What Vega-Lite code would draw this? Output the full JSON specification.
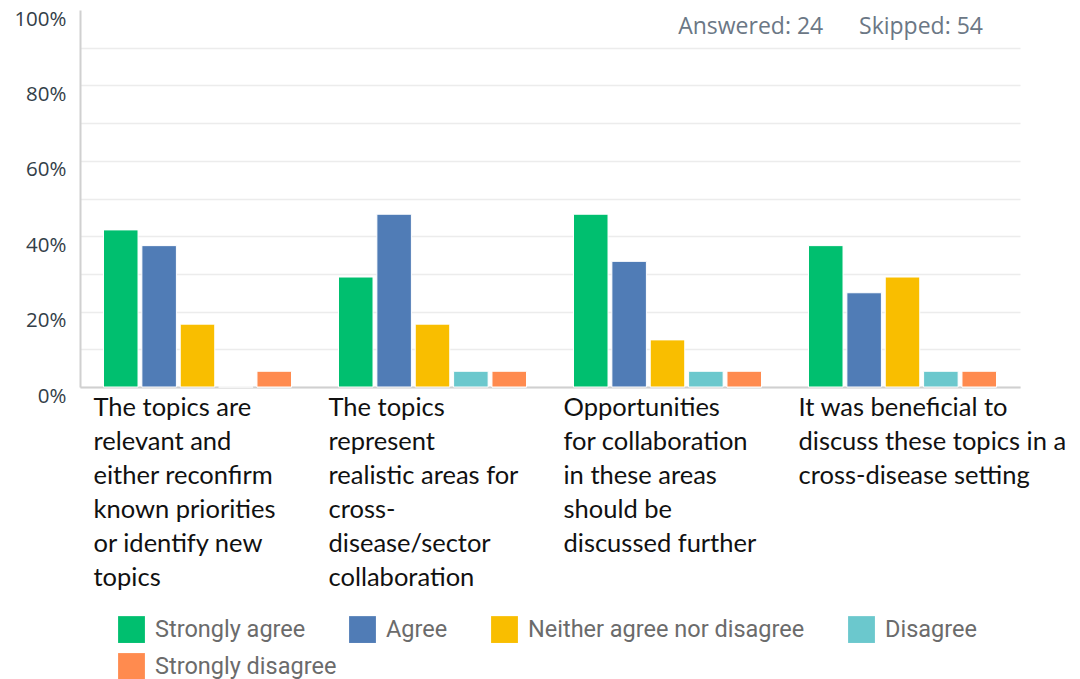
{
  "$schema": "https://vega.github.io/schema/vega-lite/v6.json",
  "width": 940,
  "height": 377,
  "autosize": {"type": "none"},
  "padding": {"left": 80, "top": 10, "right": 60, "bottom": 292},
  "background": "white",
  "title": {
    "text": "Answered: 24\u00a0\u00a0\u00a0\u00a0\u00a0\u00a0Skipped: 54",
    "anchor": "end",
    "frame": "group",
    "orient": "top",
    "offset": -30,
    "dx": -37,
    "font": "Open Sans",
    "fontSize": 23,
    "fontWeight": "normal",
    "color": "#6b7785"
  },
  "datasets": {
    "survey": [
      {"question": "q1", "answer": "Strongly agree", "pct": 0.4167},
      {"question": "q1", "answer": "Agree", "pct": 0.375},
      {"question": "q1", "answer": "Neither agree nor disagree", "pct": 0.1667},
      {"question": "q1", "answer": "Disagree", "pct": 0},
      {"question": "q1", "answer": "Strongly disagree", "pct": 0.0417},
      {"question": "q2", "answer": "Strongly agree", "pct": 0.2917},
      {"question": "q2", "answer": "Agree", "pct": 0.4583},
      {"question": "q2", "answer": "Neither agree nor disagree", "pct": 0.1667},
      {"question": "q2", "answer": "Disagree", "pct": 0.0417},
      {"question": "q2", "answer": "Strongly disagree", "pct": 0.0417},
      {"question": "q3", "answer": "Strongly agree", "pct": 0.4583},
      {"question": "q3", "answer": "Agree", "pct": 0.3333},
      {"question": "q3", "answer": "Neither agree nor disagree", "pct": 0.125},
      {"question": "q3", "answer": "Disagree", "pct": 0.0417},
      {"question": "q3", "answer": "Strongly disagree", "pct": 0.0417},
      {"question": "q4", "answer": "Strongly agree", "pct": 0.375},
      {"question": "q4", "answer": "Agree", "pct": 0.25},
      {"question": "q4", "answer": "Neither agree nor disagree", "pct": 0.2917},
      {"question": "q4", "answer": "Disagree", "pct": 0.0417},
      {"question": "q4", "answer": "Strongly disagree", "pct": 0.0417}
    ]
  },
  "data": {"name": "survey"},
  "encoding": {
    "x": {
      "field": "question",
      "type": "nominal",
      "sort": null,
      "scale": {"domain": ["q1", "q2", "q3", "q4"], "paddingInner": 0.2, "paddingOuter": 0.1},
      "axis": {
        "title": null,
        "labelAngle": 0,
        "labelAlign": "left",
        "labelBaseline": "top",
        "labelOffset": -104,
        "labelPadding": 8,
        "labelFont": "Lato",
        "labelFontSize": 25.5,
        "labelLineHeight": 34,
        "labelColor": "#111111",
        "labelLimit": 320,
        "ticks": false,
        "domainColor": "#d0d0d0",
        "domainWidth": 2,
        "labelExpr": "datum.value == 'q1' ? ['The topics are', 'relevant and', 'either reconfirm', 'known priorities', 'or identify new', 'topics'] : datum.value == 'q2' ? ['The topics', 'represent', 'realistic areas for', 'cross-', 'disease/sector', 'collaboration'] : datum.value == 'q3' ? ['Opportunities', 'for collaboration', 'in these areas', 'should be', 'discussed further'] : ['It was beneficial to', 'discuss these topics in a', 'cross-disease setting']"
      }
    },
    "xOffset": {
      "field": "answer",
      "type": "nominal",
      "sort": null,
      "scale": {
        "domain": ["Strongly agree", "Agree", "Neither agree nor disagree", "Disagree", "Strongly disagree"],
        "paddingInner": 0.1,
        "paddingOuter": 0
      }
    },
    "y": {
      "field": "pct",
      "type": "quantitative",
      "scale": {"domain": [0, 1]},
      "axis": {
        "title": null,
        "values": [0, 0.1, 0.2, 0.3, 0.4, 0.5, 0.6, 0.7, 0.8, 0.9, 1],
        "labelExpr": "round(datum.value * 100) % 20 == 0 ? format(datum.value, '.0%') : ''",
        "labelFont": "Open Sans",
        "labelFontSize": 20.5,
        "labelColor": "#333e48",
        "labelPadding": 14,
        "labelOffset": 9,
        "ticks": false,
        "domainColor": "#d0d0d0",
        "domainWidth": 2,
        "gridColor": "#ececec",
        "gridWidth": 1.5,
        "gridOpacity": {"condition": {"test": "datum.value >= 1", "value": 0}, "value": 1}
      }
    }
  },
  "layer": [
    {
      "mark": {"type": "bar", "stroke": "white", "strokeWidth": 1},
      "encoding": {
        "color": {
          "field": "answer",
          "type": "nominal",
          "sort": null,
          "scale": {
            "domain": ["Strongly agree", "Agree", "Neither agree nor disagree", "Disagree", "Strongly disagree"],
            "range": ["#00bf6f", "#507cb6", "#f9be00", "#6bc8cd", "#ff8b4f"]
          },
          "legend": {
            "title": null,
            "values": ["Strongly agree", "Agree", "Neither agree nor disagree", "Disagree"],
            "orient": "none",
            "legendX": 38,
            "legendY": 606,
            "direction": "horizontal",
            "columns": 4,
            "columnPadding": 43,
            "symbolType": "square",
            "symbolSize": 720,
            "symbolStrokeWidth": 0,
            "symbolOpacity": 1,
            "labelFont": "Roboto",
            "labelFontSize": 23.5,
            "labelColor": "#6b6b6b",
            "labelOffset": 10,
            "labelLimit": 400
          }
        }
      }
    },
    {
      "transform": [{"filter": "datum.answer == 'Strongly disagree'"}],
      "mark": {"type": "bar", "stroke": "white", "strokeWidth": 1},
      "encoding": {
        "color": {
          "field": "answer",
          "type": "nominal",
          "scale": {"domain": ["Strongly disagree"], "range": ["#ff8b4f"]},
          "legend": {
            "title": null,
            "orient": "none",
            "legendX": 38,
            "legendY": 643,
            "direction": "horizontal",
            "symbolType": "square",
            "symbolSize": 720,
            "symbolStrokeWidth": 0,
            "symbolOpacity": 1,
            "labelFont": "Roboto",
            "labelFontSize": 23.5,
            "labelColor": "#6b6b6b",
            "labelOffset": 10,
            "labelLimit": 400
          }
        }
      }
    }
  ],
  "resolve": {"scale": {"color": "independent"}, "legend": {"color": "independent"}},
  "config": {
    "view": {"stroke": null}
  }
}
